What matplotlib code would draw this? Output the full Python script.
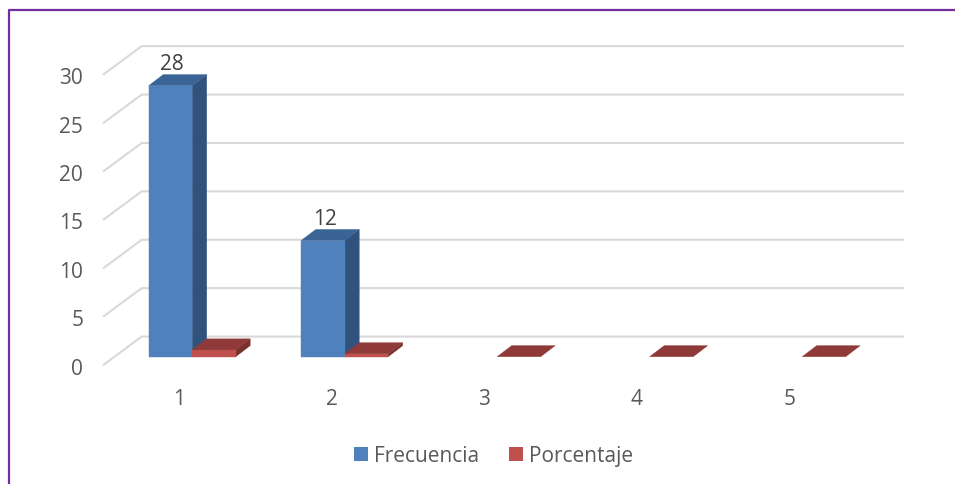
import matplotlib
matplotlib.use("Agg")
import matplotlib.pyplot as plt
from matplotlib.lines import Line2D
from matplotlib.patches import Patch, Polygon

categories = ["1", "2", "3", "4", "5"]
frecuencia = [28, 12, 0, 0, 0]
porcentaje = [0.7, 0.3, 0, 0, 0]
y_ticks = [0, 5, 10, 15, 20, 25, 30]

W, H = 955, 485
plt.rcParams["font.family"] = ["Open Sans", "DejaVu Sans"]

fig = plt.figure(figsize=(W / 100, H / 100), dpi=100)
# front plane of the 3D box, in figure pixels
left, right, bottom, top = 103.0, 865.5, 366.2, 75.8
ax = fig.add_axes([left / W, 1 - bottom / H, (right - left) / W, (bottom - top) / H])
ax.set_xlim(0, 5)
ax.set_ylim(0, 30)
ax.axis("off")

# depth of the box and of the bars, in data units
box_dx, box_dy = 0.254, 2.96
bar_dx, bar_dy = 0.095, 1.14
bar_w = 0.285
front_dx, front_dy = 0.085, 0.88

grid_c = "#D9D9D9"
for t in y_ticks:
    ax.add_line(Line2D([0, box_dx, 5 + box_dx], [t, t + box_dy, t + box_dy],
                       color=grid_c, lw=1.5, clip_on=False, solid_capstyle="butt", zorder=1))
    ax.text(-0.13, t - 0.3, str(t), ha="right", va="center", fontsize=15, color="#595959")

for i, c in enumerate(categories):
    ax.text(i + 0.5, -3.4, c, ha="center", va="center", fontsize=15, color="#595959")


def draw_bar(x0, v, front, side, roof):
    x0 += front_dx
    x1 = x0 + bar_w
    y0 = front_dy
    y1 = y0 + v
    if v > 0:
        ax.add_patch(Polygon([(x1, y0), (x1 + bar_dx, y0 + bar_dy), (x1 + bar_dx, y1 + bar_dy), (x1, y1)],
                             fc=side, ec=side, lw=0.3, clip_on=False, zorder=3))
        ax.add_patch(Polygon([(x0, y0), (x1, y0), (x1, y1), (x0, y1)],
                             fc=front, ec=front, lw=0.3, clip_on=False, zorder=4))
    ax.add_patch(Polygon([(x0, y1), (x1, y1), (x1 + bar_dx, y1 + bar_dy), (x0 + bar_dx, y1 + bar_dy)],
                         fc=roof, ec=roof, lw=0.3, clip_on=False, zorder=4))


for i in range(len(categories)):
    if frecuencia[i] > 0:
        draw_bar(i + 0.5 - bar_w, frecuencia[i], "#4F81BD", "#31527C", "#3A6496")
        ax.text(i + 0.5 - bar_w / 2 + front_dx + 0.01, frecuencia[i] + front_dy + bar_dy + 0.1,
                str(frecuencia[i]), ha="center", va="bottom", fontsize=15, color="#404040")
    draw_bar(i + 0.5, porcentaje[i], "#C0504D", "#7A302E", "#8F3A38")

handles = [Patch(fc="#4F81BD", label="Frecuencia"), Patch(fc="#C0504D", label="Porcentaje")]
fig.legend(handles=handles, loc="center", bbox_to_anchor=(493.5 / W, 1 - 457 / H), ncol=2, frameon=False,
           fontsize=15, labelcolor="#595959", handlelength=0.68, handleheight=0.68,
           handletextpad=0.3, columnspacing=1.4)

# purple border of the chart area
purple = "#7030A0"
fig.add_artist(Line2D([8.5 / W, 8.5 / W, 1], [0, 1 - 10.5 / H, 1 - 10.5 / H],
                      color=purple, lw=1.6, transform=fig.transFigure))

fig.savefig("out.png", dpi=100)
